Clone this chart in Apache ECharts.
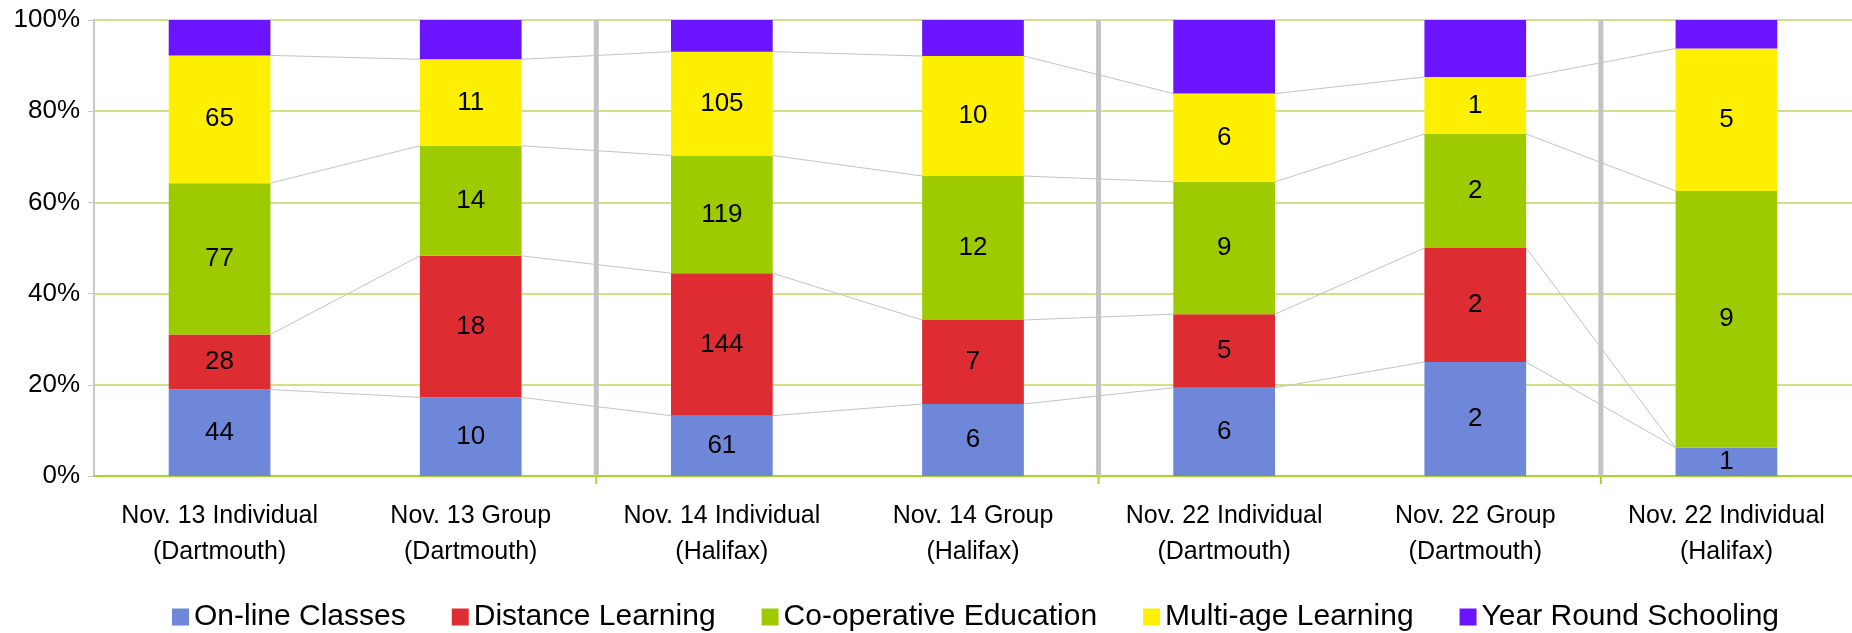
<!DOCTYPE html>
<html>
<head>
<meta charset="utf-8">
<title>Stacked 100% chart</title>
<script src="https://cdn.jsdelivr.net/npm/echarts@6/dist/echarts.min.js"></script>
<style>
  html, body { margin: 0; padding: 0; background: #fff; }
  #chart { width: 1852px; height: 633px; }
</style>
</head>
<body>
<div id="chart"></div>
<script>
// categories along the x axis
var categories = [
  'Nov. 13 Individual\n(Dartmouth)',
  'Nov. 13 Group\n(Dartmouth)',
  'Nov. 14 Individual\n(Halifax)',
  'Nov. 14 Group\n(Halifax)',
  'Nov. 22 Individual\n(Dartmouth)',
  'Nov. 22 Group\n(Dartmouth)',
  'Nov. 22 Individual\n(Halifax)'
];
var onlineClasses = [44, 10, 61, 6, 6, 2, 1];
var distanceLearning = [28, 18, 144, 7, 5, 2, 0];
var coopEducation = [77, 14, 119, 12, 9, 2, 9];
var multiAgeLearning = [65, 11, 105, 10, 6, 1, 5];
var yearRoundSchooling = [18, 5, 32, 3, 5, 1, 1];
var yTicks = [0, 20, 40, 60, 80, 100];
// thick gray dividers sit after these category indexes
var dividerAfter = [1, 3, 5];

var seriesNames = ['On-line Classes', 'Distance Learning', 'Co-operative Education', 'Multi-age Learning', 'Year Round Schooling'];
var seriesColors = ['#6f87d8', '#de2c33', '#9ecb00', '#fcf000', '#6a14ff'];
var rawData = [onlineClasses, distanceLearning, coopEducation, multiAgeLearning, yearRoundSchooling];

var totals = categories.map(function (c, i) {
  var s = 0;
  rawData.forEach(function (arr) { s += arr[i]; });
  return s;
});
var pctData = rawData.map(function (arr) {
  return arr.map(function (v, i) { return v / totals[i] * 100; });
});
// cumulative top of each of the first four segments
var cumLevels = categories.map(function (c, i) {
  var acc = 0, out = [];
  for (var k = 0; k < 4; k++) { acc += pctData[k][i]; out.push(acc); }
  return out;
});

var BAR_RATIO = 0.405;
var FONT = "'Liberation Sans', Arial, sans-serif";

var myChart = echarts.init(document.getElementById('chart'));

var barSeries = seriesNames.map(function (name, k) {
  return {
    name: name,
    type: 'bar',
    stack: 'total',
    barWidth: (BAR_RATIO * 100) + '%',
    z: 3,
    itemStyle: { color: seriesColors[k] },
    emphasis: { disabled: true },
    label: {
      show: k < 4,
      position: 'inside',
      color: '#000',
      fontSize: 26,
      fontFamily: FONT,
      formatter: function (p) {
        var v = rawData[k][p.dataIndex];
        return v > 0 ? String(v) : '';
      }
    },
    data: pctData[k]
  };
});

// thin gray lines joining the segment tops of neighbouring bars
var connectorSeries = {
  type: 'custom',
  name: 'connectors',
  coordinateSystem: 'cartesian2d',
  z: 2,
  silent: true,
  renderItem: function (params, api) {
    var i = api.value(0);
    var band = api.size([1, 0])[0];
    var half = band * BAR_RATIO / 2;
    var children = [];
    for (var k = 0; k < 4; k++) {
      var a = api.coord([i, cumLevels[i][k]]);
      var b = api.coord([i + 1, cumLevels[i + 1][k]]);
      children.push({
        type: 'line',
        shape: { x1: a[0] + half, y1: a[1], x2: b[0] - half, y2: b[1] },
        style: { stroke: '#c4c4c4', lineWidth: 1 }
      });
    }
    return { type: 'group', children: children };
  },
  data: [0, 1, 2, 3, 4, 5].map(function (i) { return [i, 0]; })
};

// vertical dividers between the groups
var dividerSeries = {
  type: 'custom',
  name: 'dividers',
  coordinateSystem: 'cartesian2d',
  z: 1,
  silent: true,
  renderItem: function (params, api) {
    var i = api.value(0);
    var band = api.size([1, 0])[0];
    var top = api.coord([i, 100]);
    var bot = api.coord([i, 0]);
    var x = top[0] + band / 2;
    return {
      type: 'group',
      children: [
        { type: 'line', shape: { x1: x, y1: bot[1], x2: x, y2: bot[1] + 8 }, style: { stroke: '#a8d42e', lineWidth: 2 } },
        { type: 'line', shape: { x1: x, y1: top[1], x2: x, y2: bot[1] }, style: { stroke: '#c3c3c3', lineWidth: 5 } }
      ]
    };
  },
  data: dividerAfter.map(function (i) { return [i, 0]; })
};

myChart.setOption({
  animation: false,
  backgroundColor: '#fff',
  textStyle: { fontFamily: FONT },
  grid: { left: 94, right: -6, top: 20, bottom: 157, containLabel: false },
  legend: {
    data: seriesNames,
    left: 167,
    top: 597,
    itemWidth: 17,
    itemHeight: 17,
    itemGap: 46,
    icon: 'rect',
    textStyle: { fontSize: 30, color: '#000', fontFamily: FONT }
  },
  xAxis: {
    type: 'category',
    data: categories,
    axisLine: { show: true, lineStyle: { color: '#a8d42e', width: 2 } },
    axisTick: { show: false },
    axisLabel: { color: '#000', fontSize: 25, lineHeight: 36, margin: 22, interval: 0, fontFamily: FONT },
    splitLine: { show: false }
  },
  yAxis: {
    type: 'value',
    min: yTicks[0],
    max: yTicks[yTicks.length - 1],
    interval: 20,
    axisLine: { show: true, lineStyle: { color: '#c8c8c8', width: 2 } },
    axisTick: { show: true, length: 6, lineStyle: { color: '#c8c8c8' } },
    axisLabel: { color: '#000', fontSize: 26, margin: 14, formatter: '{value}%', fontFamily: FONT },
    splitLine: { show: true, lineStyle: { color: '#cfe386', width: 2 } }
  },
  series: barSeries.concat([connectorSeries, dividerSeries])
});
</script>
</body>
</html>
